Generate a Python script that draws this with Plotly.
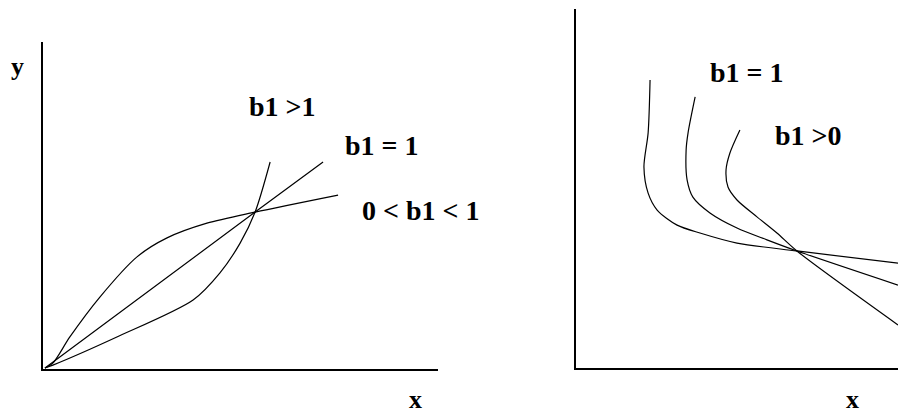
import plotly.graph_objects as go

# ---- data (left panel: y = a*x^b1, three cases) ----
left_concave_x = [0.05, 0.25, 0.68, 1.44, 2.38, 3.14, 4.15, 5.37, 7.47]
left_concave_y = [0.03, 0.18, 0.98, 2.20, 3.43, 4.01, 4.46, 4.80, 5.32]
left_linear_x = [0.05, 5.37, 7.09]
left_linear_y = [0.03, 4.80, 6.33]
left_convex_x = [0.05, 0.25, 1.87, 3.80, 4.48, 4.99, 5.37, 5.75]
left_convex_y = [0.03, 0.12, 0.98, 2.11, 2.94, 3.85, 4.80, 6.33]

# ---- data (right panel: three downward curves) ----
right_c1_x = [2.30, 2.24, 2.11, 2.24, 2.52, 3.14, 3.85, 5.00, 6.86, 10.0]
right_c1_y = [8.02, 6.55, 5.60, 4.87, 4.40, 3.98, 3.76, 3.48, 3.26, 2.92]
right_c2_x = [3.70, 3.48, 3.42, 3.45, 3.63, 4.16, 5.00, 5.93, 6.86, 10.0]
right_c2_y = [7.55, 6.55, 6.07, 5.24, 4.76, 4.32, 3.90, 3.57, 3.26, 2.31]
right_c3_x = [5.09, 4.78, 4.66, 4.72, 5.00, 5.62, 6.24, 6.86, 10.0]
right_c3_y = [6.63, 5.99, 5.52, 5.04, 4.68, 4.21, 3.76, 3.26, 1.20]

labels_left = ["b1 >1", "b1 = 1", "0 < b1 < 1"]
labels_right = ["b1 = 1", "b1 >0"]

W, H = 898, 416

fig = go.Figure()
line = dict(color="black", width=1.2, shape="spline", smoothing=0.8)
for xs, ys in [(left_concave_x, left_concave_y), (left_linear_x, left_linear_y),
               (left_convex_x, left_convex_y)]:
    fig.add_trace(go.Scatter(x=xs, y=ys, mode="lines", line=line,
                             xaxis="x", yaxis="y", showlegend=False, hoverinfo="skip"))
for xs, ys in [(right_c1_x, right_c1_y), (right_c2_x, right_c2_y),
               (right_c3_x, right_c3_y)]:
    fig.add_trace(go.Scatter(x=xs, y=ys, mode="lines", line=line,
                             xaxis="x2", yaxis="y2", showlegend=False, hoverinfo="skip"))

ax = dict(showline=True, linecolor="black", linewidth=2, showgrid=False,
          zeroline=False, showticklabels=False, ticks="", range=[0, 10], fixedrange=True)

fig.update_layout(
    width=W, height=H,
    margin=dict(l=0, r=0, t=0, b=0),
    paper_bgcolor="white", plot_bgcolor="white",
    xaxis=dict(ax, domain=[43 / W, 438 / W], anchor="y"),
    yaxis=dict(ax, domain=[(H - 369) / H, (H - 42) / H], anchor="x"),
    xaxis2=dict(ax, domain=[576 / W, 1.0], anchor="y2"),
    yaxis2=dict(ax, domain=[(H - 368) / H, (H - 9) / H], anchor="x2"),
    font=dict(family="Liberation Serif", color="black"),
)

def ann(text, px, py, size=28, anchor="left", yanchor="middle"):
    fig.add_annotation(text="<b>%s</b>" % text, x=px / W, y=1 - py / H,
                       xref="paper", yref="paper", xanchor=anchor, yanchor=yanchor,
                       showarrow=False, font=dict(size=size, family="Liberation Serif", color="black"))

ann(labels_left[0], 247, 106)
ann(labels_left[1], 343, 145)
ann(labels_left[2], 360, 210)
ann(labels_right[0], 708, 72)
ann(labels_right[1], 773, 135)
ann("y", 17, 66, size=26, anchor="center")
ann("x", 415, H, size=26, anchor="center", yanchor="bottom")
ann("x", 852, H, size=26, anchor="center", yanchor="bottom")

fig.write_html(
    "out.html",
    config={"displayModeBar": False},
    post_script="document.body.style.margin='0';document.body.style.overflow='hidden';",
)
